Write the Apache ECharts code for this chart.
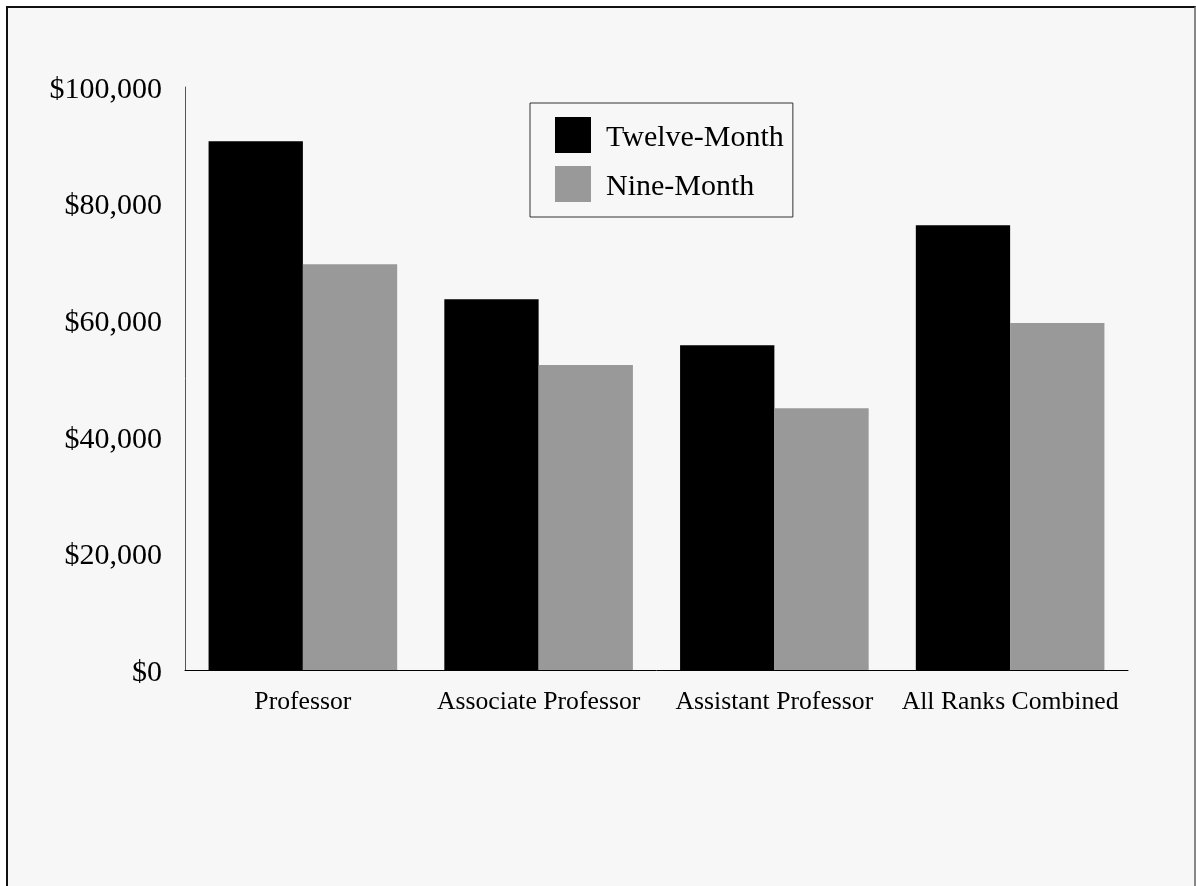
<!DOCTYPE html>
<html><head><meta charset="utf-8">
<script src="https://cdn.jsdelivr.net/npm/echarts@6/dist/echarts.min.js"></script>
<style>
html,body{margin:0;padding:0;background:#fff;width:1196px;height:886px;overflow:hidden;}
#frame{position:absolute;left:6px;top:6px;width:1186px;height:900px;border-left:2px solid #111;border-top:2px solid #111;border-right:2px solid #888;background:#f7f7f7;}
#chart{position:absolute;left:0;top:0;width:1196px;height:886px;}
</style></head>
<body>
<div id="frame"></div>
<div id="chart"></div>
<script>
const categories = ["Professor", "Associate Professor", "Assistant Professor", "All Ranks Combined"];
const twelveMonth = [90700, 63600, 55700, 76300];
const nineMonth = [69600, 52300, 44900, 59500];
const yTicks = [0, 20000, 40000, 60000, 80000, 100000];

const chart = echarts.init(document.getElementById('chart'), null, {renderer: 'canvas'});
const font = '"Liberation Serif", "Times New Roman", serif';
chart.setOption({
  backgroundColor: 'transparent',
  animation: false,
  textStyle: {fontFamily: font},
  legend: {
    orient: 'vertical',
    left: 530, top: 103,
    padding: [14, 9, 15, 25],
    itemWidth: 36, itemHeight: 36, itemGap: 13,
    icon: 'rect',
    borderColor: '#333', borderWidth: 1,
    formatter: n => '{t|' + n + '}',
    textStyle: {fontFamily: font, fontSize: 30, color: '#000',
      rich: {t: {fontFamily: font, fontSize: 30, color: '#000', padding: [6, 0, 0, 10]}}},
    data: ['Twelve-Month', 'Nine-Month']
  },
  grid: {left: 185, right: 68, top: 87, bottom: 216, containLabel: false},
  xAxis: {
    type: 'category',
    data: categories,
    axisLine: {lineStyle: {color: '#000', width: 1}},
    axisTick: {show: false},
    axisLabel: {fontFamily: font, fontSize: 25.7, color: '#000', margin: 19, interval: 0}
  },
  yAxis: {
    type: 'value',
    min: yTicks[0], max: yTicks[yTicks.length-1], interval: 20000,
    axisLine: {show: true, lineStyle: {color: '#555', width: 1}},
    axisTick: {show: false},
    splitLine: {show: false},
    axisLabel: {fontFamily: font, fontSize: 30, color: '#000', margin: 23,
      formatter: v => '{v|$' + v.toLocaleString('en-US') + '}',
      rich: {v: {fontFamily: font, fontSize: 30, color: '#000', padding: [6, 0, 0, 0]}}}
  },
  series: [
    {name: 'Twelve-Month', type: 'bar', data: twelveMonth, barGap: '0%', barCategoryGap: '20%', itemStyle: {color: '#000'}},
    {name: 'Nine-Month', type: 'bar', data: nineMonth, barGap: '0%', barCategoryGap: '20%', itemStyle: {color: '#999'}}
  ]
});
</script>
</body></html>
